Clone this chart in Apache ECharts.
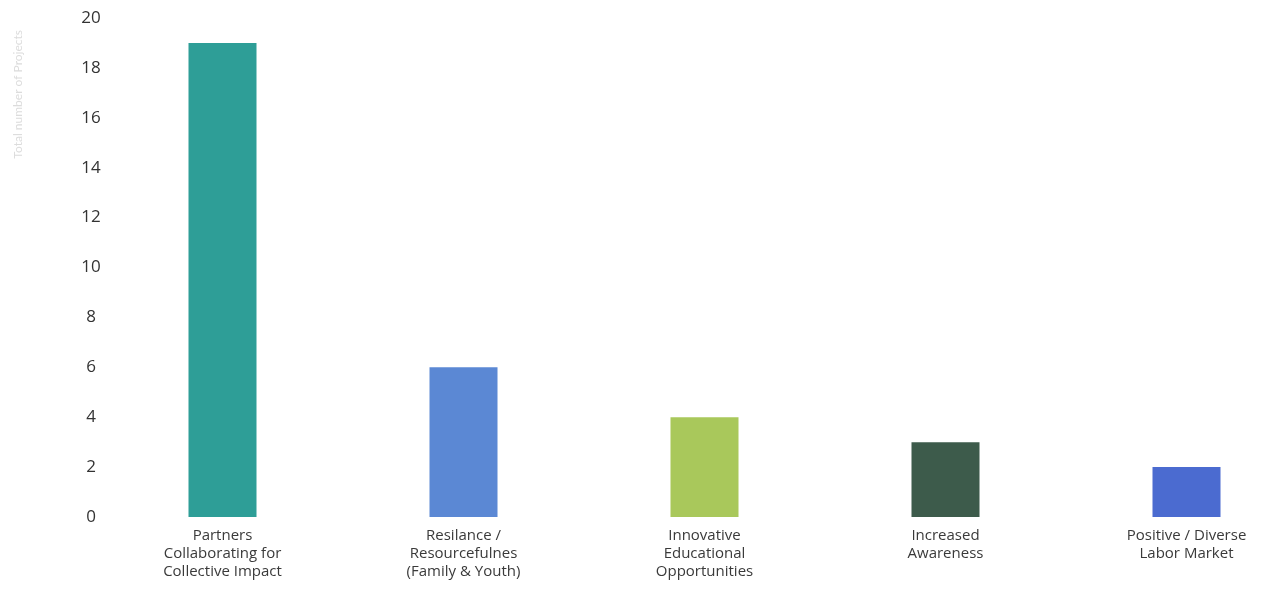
<!DOCTYPE html>
<html>
<head>
<meta charset="utf-8">
<title>Projects by outcome</title>
<script src="https://cdn.jsdelivr.net/npm/echarts@6/dist/echarts.min.js"></script>
<style>
  html, body { margin: 0; padding: 0; background: #fff; overflow: hidden; }
  #chart { width: 1310px; height: 595px; }
</style>
</head>
<body>
<div id="chart"></div>
<script>
// categories and values
const categories = [
  'Partners\nCollaborating for\nCollective Impact',
  'Resilance /\nResourcefulnes\n(Family & Youth)',
  'Innovative\nEducational\nOpportunities',
  'Increased\nAwareness',
  'Positive / Diverse\nLabor Market'
];
const values = [19, 6, 4, 3, 2];
const barColors = ['#2e9e97', '#5b88d4', '#a9c85b', '#3d5b4b', '#4b6bd0'];

const chart = echarts.init(document.getElementById('chart'));

// the plot runs a little past the right edge of the window, as in the original
chart.setOption({
  animation: false,
  grid: { left: 102, top: 18, width: 1205, height: 499 },
  graphic: [{
    type: 'text',
    left: 12,
    top: 30,
    rotation: Math.PI / 2,
    style: {
      text: 'Total number of Projects',
      fill: '#dcdcdc',
      font: '12px Lato'
    }
  }],
  xAxis: {
    type: 'category',
    data: categories,
    axisLine: { show: false },
    axisTick: { show: false },
    axisLabel: {
      margin: 10,
      color: '#3a3a3a',
      fontFamily: 'Open Sans',
      fontSize: 15,
      lineHeight: 18,
      interval: 0
    }
  },
  yAxis: {
    type: 'value',
    min: 0,
    max: 20,
    interval: 2,
    splitLine: { show: false },
    axisLine: { show: false },
    axisTick: { show: false },
    axisLabel: {
      margin: 11,
      align: 'center',
      color: '#333',
      fontFamily: 'Open Sans',
      fontSize: 17
    }
  },
  series: [{
    type: 'bar',
    barWidth: 68,
    data: values.map((v, i) => ({ value: v, itemStyle: { color: barColors[i] } }))
  }]
});
</script>
</body>
</html>
